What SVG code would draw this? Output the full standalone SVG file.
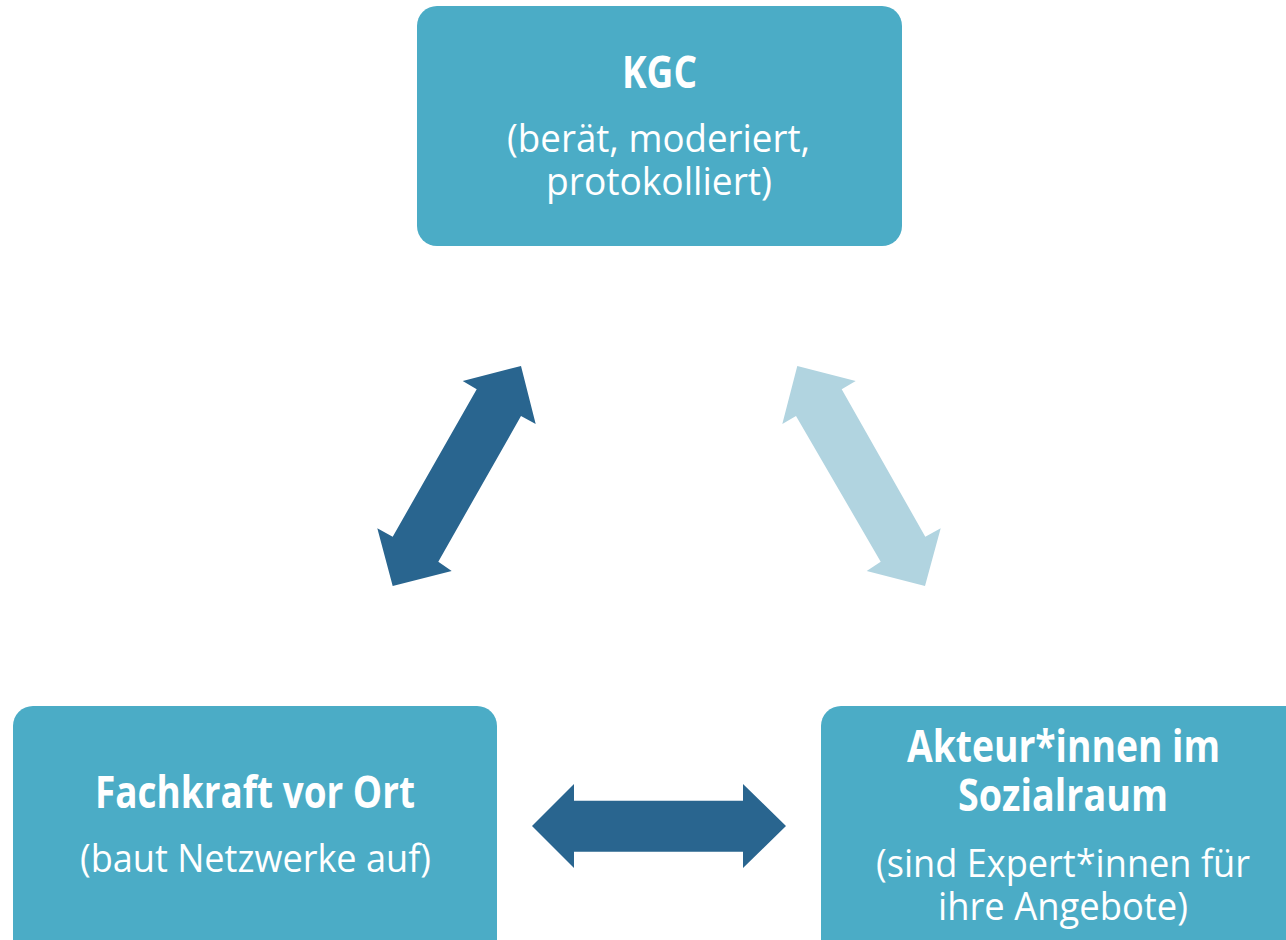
<svg xmlns="http://www.w3.org/2000/svg" width="1286" height="940" viewBox="0 0 1286 940">
<style>
.box{fill:#4BACC6}
.t{fill:#fff;font-family:"Open Sans","Noto Sans","Liberation Sans",sans-serif;text-anchor:middle}
.b{font-weight:bold;font-size:44px}
.r{font-size:38px}
.dark{fill:#29658F}
.light{fill:#B1D4E0}
</style>
<rect width="1286" height="940" fill="#fff"/>
<g id="kgc">
<rect class="box" x="417" y="6" width="485" height="240" rx="20"/>
<text class="t b" x="659.5" y="88" textLength="75" lengthAdjust="spacingAndGlyphs">KGC</text>
<text class="t r" x="658.5" y="152" textLength="303" lengthAdjust="spacingAndGlyphs">(berät, moderiert,</text>
<text class="t r" x="659" y="195" textLength="226" lengthAdjust="spacingAndGlyphs">protokolliert)</text>
</g>
<g id="fachkraft">
<rect class="box" x="13" y="706" width="484" height="260" rx="20"/>
<text class="t b" x="255" y="808" textLength="320" lengthAdjust="spacingAndGlyphs">Fachkraft vor Ort</text>
<text class="t r" x="255.5" y="872" textLength="351" lengthAdjust="spacingAndGlyphs">(baut Netzwerke auf)</text>
</g>
<g id="akteure">
<rect class="box" x="821" y="706" width="500" height="260" rx="20"/>
<text class="t b" x="1063.5" y="762" textLength="313" lengthAdjust="spacingAndGlyphs">Akteur*innen im</text>
<text class="t b" x="1063" y="811" textLength="210" lengthAdjust="spacingAndGlyphs">Sozialraum</text>
<text class="t r" x="1063" y="877" textLength="374" lengthAdjust="spacingAndGlyphs">(sind Expert*innen für</text>
<text class="t r" x="1063" y="920" textLength="250" lengthAdjust="spacingAndGlyphs">ihre Angebote)</text>
</g>
<g id="connectors">
<polygon class="dark" points="532,826 574,784 574,800.7 743,800.7 743,784 786,826 743,868 743,851.7 574,851.7 574,868"/>
<polygon class="dark" points="521,366 535.7,424 521,416 438.3,561.7 451.7,571 392.7,586 377.3,528.3 392.7,536.7 476.7,389.3 462.7,381"/>
<polygon class="light" points="797.3,366 855.7,381 841.7,389.3 925.3,536.7 940.7,528.3 925,586 866.7,571 880.7,561.7 796,416 782.3,424"/>
</g>
</svg>
